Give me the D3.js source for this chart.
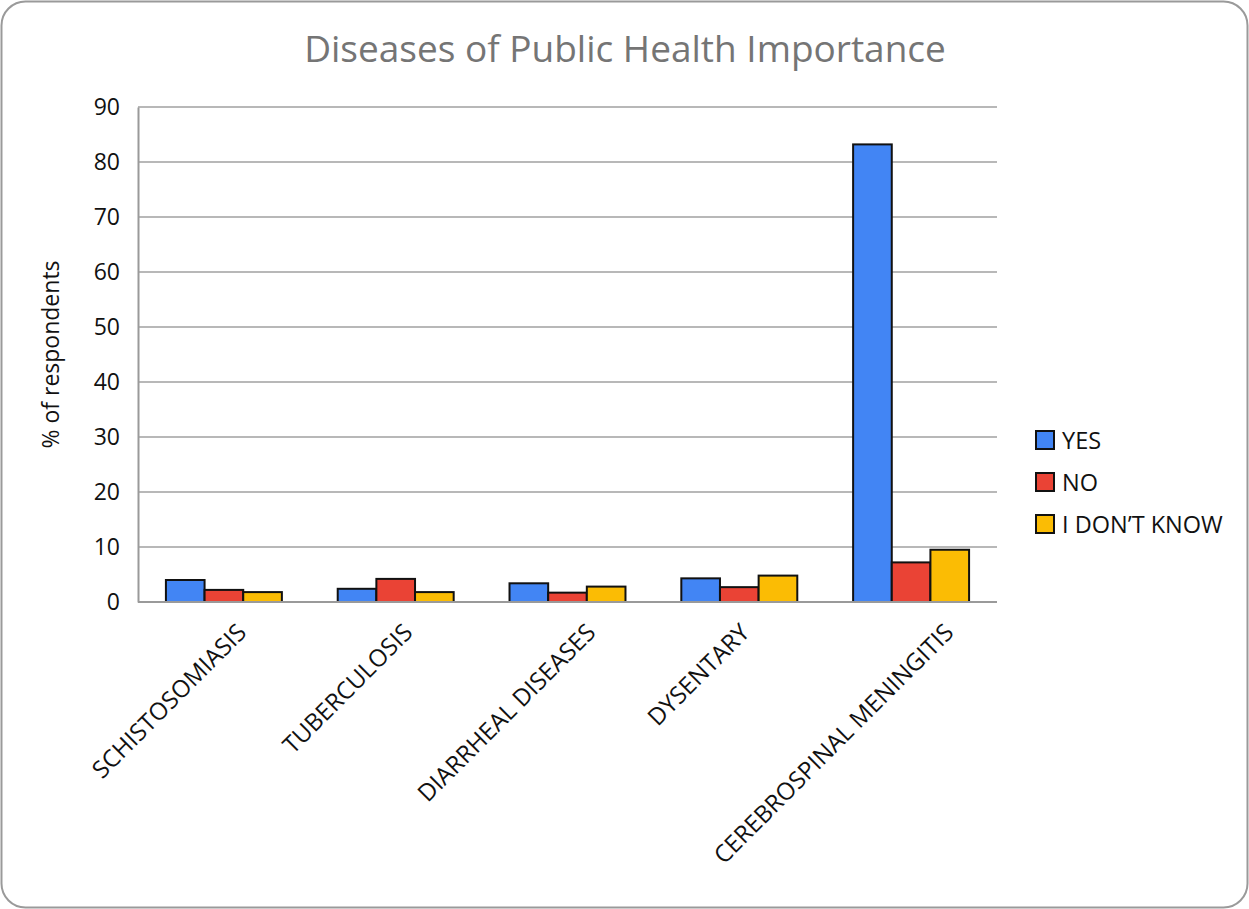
<!DOCTYPE html>
<html>
<head>
<meta charset="utf-8">
<script src="https://cdn.jsdelivr.net/npm/d3@7"></script>
<style>
  html, body { margin: 0; padding: 0; background: #ffffff; }
  svg { display: block; font-family: "Open Sans", sans-serif; }
</style>
</head>
<body>
<svg id="chart" width="1249" height="909"></svg>
<script>
// Survey responses: share of respondents per disease
const categories = ["SCHISTOSOMIASIS", "TUBERCULOSIS", "DIARRHEAL DISEASES", "DYSENTARY", "CEREBROSPINAL MENINGITIS"];
const seriesNames = ["YES", "NO", "I DON\u2019T KNOW"];
const yesValues = [4.0, 2.4, 3.4, 4.3, 83.2];
const noValues = [2.2, 4.2, 1.7, 2.7, 7.2];
const dontKnowValues = [1.8, 1.8, 2.8, 4.8, 9.5];
const yTicks = [0, 10, 20, 30, 40, 50, 60, 70, 80, 90];
const seriesColors = ["#4285F4", "#EA4335", "#FBBC04"];

const seriesValues = [yesValues, noValues, dontKnowValues];

const svg = d3.select("#chart");
const W = 1249, H = 909;
const plot = { left: 138, right: 997, top: 107, bottom: 602 };

// Outer frame
svg.append("rect")
  .attr("x", 1.5).attr("y", 1.5)
  .attr("width", W - 3).attr("height", H - 3)
  .attr("rx", 24).attr("ry", 24)
  .attr("fill", "#ffffff")
  .attr("stroke", "#9a9a9a").attr("stroke-width", 2);

// Title
svg.append("text")
  .attr("x", 625).attr("y", 62)
  .attr("text-anchor", "middle")
  .attr("font-size", 37)
  .attr("fill", "#757575")
  .text("Diseases of Public Health Importance");

const y = d3.scaleLinear().domain([0, 90]).range([plot.bottom, plot.top]);
const x0 = d3.scaleBand().domain(categories).range([plot.left, plot.right])
  .paddingInner(0.325).paddingOuter(0.1625);
const x1 = d3.scaleBand().domain(seriesNames).range([0, x0.bandwidth()]);

// Gridlines
svg.append("g")
  .selectAll("line")
  .data(yTicks.filter(t => t > 0))
  .join("line")
  .attr("x1", plot.left).attr("x2", plot.right)
  .attr("y1", d => y(d)).attr("y2", d => y(d))
  .attr("stroke", "#b8b8b8").attr("stroke-width", 2);

// Y axis
const yAxis = svg.append("g")
  .attr("transform", `translate(${plot.left},0)`)
  .call(d3.axisLeft(y).tickValues(yTicks).tickSize(0).tickPadding(18));
yAxis.select(".domain").attr("stroke", "#9a9a9a").attr("stroke-width", 2);
yAxis.selectAll("text")
  .attr("font-size", 23)
  .attr("font-family", "Open Sans, sans-serif")
  .attr("fill", "#111111");

// Y axis title
svg.append("text")
  .attr("transform", `translate(59,${(plot.top + plot.bottom) / 2}) rotate(-90)`)
  .attr("text-anchor", "middle")
  .attr("font-size", 23)
  .attr("fill", "#111111")
  .text("% of respondents");

// Bars
const rows = categories.map((c, i) => ({
  category: c,
  values: seriesNames.map((s, j) => ({ series: s, value: seriesValues[j][i], color: seriesColors[j] }))
}));

svg.append("g")
  .selectAll("g")
  .data(rows)
  .join("g")
  .attr("transform", d => `translate(${x0(d.category)},0)`)
  .selectAll("rect")
  .data(d => d.values)
  .join("rect")
  .attr("x", d => x1(d.series))
  .attr("y", d => y(d.value))
  .attr("width", x1.bandwidth())
  .attr("height", d => y(0) - y(d.value))
  .attr("fill", d => d.color)
  .attr("stroke", "#111111")
  .attr("stroke-width", 2);

// X baseline
svg.append("line")
  .attr("x1", plot.left).attr("x2", plot.right)
  .attr("y1", plot.bottom).attr("y2", plot.bottom)
  .attr("stroke", "#9a9a9a").attr("stroke-width", 2);

// Category labels, rotated 45°; longer labels are nudged right of the tick
const catLabels = svg.append("g")
  .selectAll("text")
  .data(categories)
  .join("text")
  .attr("text-anchor", "end")
  .attr("font-size", 24)
  .attr("fill", "#111111")
  .text(d => d);
catLabels.each(function (d) {
  const len = this.getComputedTextLength();
  const cx = x0(d) + x0.bandwidth() / 2;
  d3.select(this).attr("transform",
    `translate(${cx - 10 + 0.165 * len},${plot.bottom + 32}) rotate(-45)`);
});

// Legend
const legend = svg.append("g")
  .selectAll("g")
  .data(seriesNames)
  .join("g")
  .attr("transform", (d, i) => `translate(1036,${431 + i * 42})`);
legend.append("rect")
  .attr("width", 18).attr("height", 18)
  .attr("fill", (d, i) => seriesColors[i])
  .attr("stroke", "#111111").attr("stroke-width", 2);
legend.append("text")
  .attr("x", 26).attr("y", 18)
  .attr("font-size", 23.5)
  .attr("fill", "#111111")
  .text(d => d);
</script>
</body>
</html>
